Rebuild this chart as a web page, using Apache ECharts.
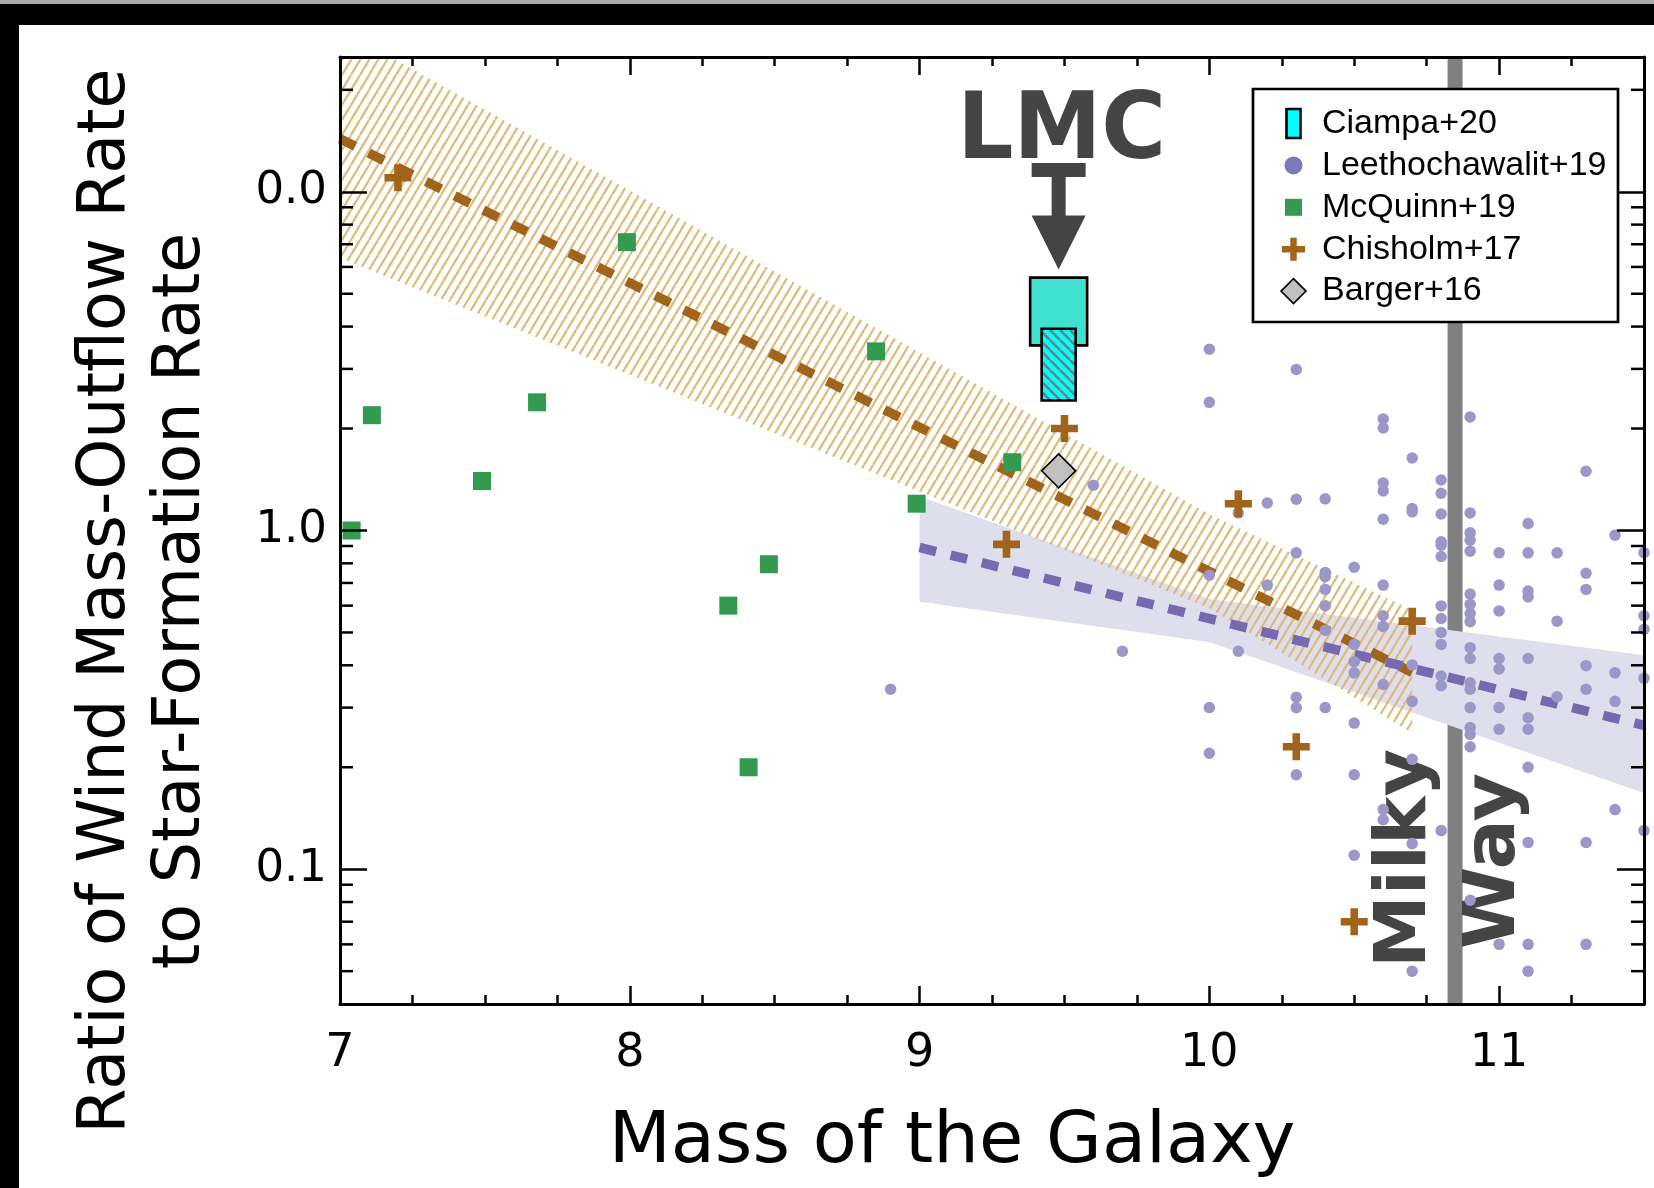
<!DOCTYPE html>
<html>
<head>
<meta charset="utf-8">
<title>Wind mass-outflow rate vs galaxy mass</title>
<script src="https://cdn.jsdelivr.net/npm/echarts@6/dist/echarts.min.js"></script>
<style>
  html, body { margin: 0; padding: 0; background: #fff; }
  #main { width: 1654px; height: 1188px; }
</style>
</head>
<body>
<div id="main"></div>
<script>
// axis ranges and tick labels
var xMin = 7, xMax = 11.5;
var yMin = 0.04, yMax = 25;
var xTickValues = [7, 8, 9, 10, 11];
var yTickValues = [0.1, 1, 10];
var yTickLabels = ['0.1', '1.0', '0.0'];
var yMinorTickValues = [0.05, 0.06, 0.07, 0.08, 0.09, 0.2, 0.3, 0.4, 0.5, 0.6, 0.7, 0.8, 0.9,
  2, 3, 4, 5, 6, 7, 8, 9, 20];

var legendNames = ['Ciampa+20', 'Leethochawalit+19', 'McQuinn+19', 'Chisholm+17', 'Barger+16'];

// [log stellar mass, outflow / SFR]
var mcquinn = [[7.04, 1.00], [7.11, 2.19], [7.49, 1.40], [7.68, 2.39], [7.99, 7.1], [8.34, 0.60],
  [8.41, 0.20], [8.48, 0.795], [8.85, 3.38], [8.99, 1.20], [9.32, 1.59]];
var chisholm = [[7.20, 11.0], [9.30, 0.91], [9.50, 2.00], [10.10, 1.20], [10.30, 0.23],
  [10.50, 0.070], [10.70, 0.54]];
var barger = [[9.48, 1.50]];
var leethochawalit = [
  [8.9, 0.34], [9.6, 1.36], [9.7, 0.44],
  [10.0, 3.43], [10.0, 2.39], [10.0, 0.738], [10.0, 0.30], [10.0, 0.22],
  [10.1, 1.127], [10.1, 0.44],
  [10.2, 1.206], [10.2, 0.69],
  [10.3, 2.99], [10.3, 1.237], [10.3, 0.859], [10.3, 0.322], [10.3, 0.30], [10.3, 0.19],
  [10.4, 1.24], [10.4, 0.752], [10.4, 0.73], [10.4, 0.67], [10.4, 0.60], [10.4, 0.508], [10.4, 0.30],
  [10.5, 0.779], [10.5, 0.461], [10.5, 0.41], [10.5, 0.38], [10.5, 0.27], [10.5, 0.19], [10.5, 0.11],
  [10.6, 2.135], [10.6, 2.007], [10.6, 1.382], [10.6, 1.309], [10.6, 1.08], [10.6, 0.69], [10.6, 0.56],
  [10.6, 0.521], [10.6, 0.351], [10.6, 0.15], [10.6, 0.14],
  [10.7, 1.637], [10.7, 1.161], [10.7, 1.135], [10.7, 0.401], [10.7, 0.313], [10.7, 0.211],
  [10.7, 0.119], [10.7, 0.05],
  [10.8, 1.41], [10.8, 1.288], [10.8, 1.119], [10.8, 0.926], [10.8, 0.905], [10.8, 0.838], [10.8, 0.599],
  [10.8, 0.55], [10.8, 0.50], [10.8, 0.461], [10.8, 0.372], [10.8, 0.348], [10.8, 0.13],
  [10.9, 2.163], [10.9, 1.127], [10.9, 0.984], [10.9, 0.936], [10.9, 0.869], [10.9, 0.649], [10.9, 0.605],
  [10.9, 0.569], [10.9, 0.538], [10.9, 0.451], [10.9, 0.419], [10.9, 0.355], [10.9, 0.34], [10.9, 0.30],
  [10.9, 0.262], [10.9, 0.25], [10.9, 0.23], [10.9, 0.081],
  [11.0, 0.859], [11.0, 0.69], [11.0, 0.579], [11.0, 0.419], [11.0, 0.39], [11.0, 0.30], [11.0, 0.259], [11.0, 0.06],
  [11.1, 1.049], [11.1, 0.859], [11.1, 0.663], [11.1, 0.637], [11.1, 0.419], [11.1, 0.28], [11.1, 0.259],
  [11.1, 0.20], [11.1, 0.12], [11.1, 0.06], [11.1, 0.05],
  [11.2, 0.859], [11.2, 0.54], [11.2, 0.323],
  [11.3, 1.496], [11.3, 0.748], [11.3, 0.67], [11.3, 0.399], [11.3, 0.34], [11.3, 0.12], [11.3, 0.06],
  [11.4, 0.969], [11.4, 0.38], [11.4, 0.313], [11.4, 0.15],
  [11.5, 0.86], [11.5, 0.56], [11.5, 0.511], [11.5, 0.366], [11.5, 0.13]
];

// Ciampa+20 LMC: [mass, low, high]
var ciampaRange = [[9.48, 3.52, 5.58]];
var ciampaHatched = [[9.48, 2.42, 3.94]];
// arrow: [mass, from, to]
var lmcArrow = [[9.48, 11.6, 5.9]];

// fits and their bands
var chisholmFitMass = [7, 10.7];
var chisholmFit = [14.35, 0.381];
var chisholmBandMass = [7, 10, 10.7];
var chisholmBandHigh = [30.3, 1.117, 0.582];
var chisholmBandLow = [6.38, 0.589, 0.252];

var leethFitMass = [9, 11.5];
var leethFit = [0.891, 0.266];
var leethBandMass = [9, 10, 11.5];
var leethBandHigh = [1.26, 0.628, 0.428];
var leethBandLow = [0.616, 0.469, 0.168];

var milkyWayMass = 10.848;

// colours
var brown = '#a0641a';
var purpleLine = '#7669af';
var purpleDot = '#9b97c9';
var green = '#339b50';
var darkGrey = '#444444';

var chart = echarts.init(document.getElementById('main'));

function makeHatch(w, h, bg, color, lw, slash) {
  var c = document.createElement('canvas');
  c.width = w;
  c.height = h;
  var ctx = c.getContext('2d');
  if (bg) {
    ctx.fillStyle = bg;
    ctx.fillRect(0, 0, w, h);
  }
  ctx.strokeStyle = color;
  ctx.lineWidth = lw;
  ctx.beginPath();
  for (var k = -1; k <= 1; k++) {
    if (slash) {
      ctx.moveTo(k * w, h);
      ctx.lineTo(k * w + w, 0);
    } else {
      ctx.moveTo(k * w, 0);
      ctx.lineTo(k * w + w, h);
    }
  }
  ctx.stroke();
  return c;
}
var orangeHatch = makeHatch(9, 15, null, '#dfba7a', 2.2, true);
var cyanHatch = makeHatch(10, 10, '#00ffff', '#7a7a7a', 2.6, false);

function crossPoints(cx, cy, s) {
  var h = s / 2, t = s * 0.14;
  return [[cx - t, cy - h], [cx + t, cy - h], [cx + t, cy - t], [cx + h, cy - t], [cx + h, cy + t],
    [cx + t, cy + t], [cx + t, cy + h], [cx - t, cy + h], [cx - t, cy + t], [cx - h, cy + t],
    [cx - h, cy - t], [cx - t, cy - t]];
}

function yFormatter(v) {
  for (var i = 0; i < yTickValues.length; i++) {
    if (Math.abs(Math.log10(v) - Math.log10(yTickValues[i])) < 1e-6) return yTickLabels[i];
  }
  return '';
}

function xAxisCfg(pos, showLabel) {
  return {
    type: 'value', position: pos, min: xMin, max: xMax, interval: 1, z: 20,
    axisLine: { show: true, onZero: false, lineStyle: { color: '#000', width: 3 } },
    axisTick: { show: true, inside: true, length: 18, lineStyle: { color: '#000', width: 2.5 } },
    minorTick: { show: true, splitNumber: 4, length: 9, lineStyle: { color: '#000', width: 2.5 } },
    splitLine: { show: false },
    axisLabel: {
      show: showLabel, margin: 27, fontSize: 46, fontFamily: 'DejaVu Sans', color: '#000',
      showMaxLabel: false,
      formatter: function (v) { return xTickValues.indexOf(v) >= 0 ? String(v) : ''; }
    }
  };
}

function yAxisCfg(pos, showLabel) {
  return {
    type: 'log', logBase: 10, position: pos, min: yMin, max: yMax, z: 20,
    axisLine: { show: true, onZero: false, lineStyle: { color: '#000', width: 3 } },
    axisTick: { show: true, inside: true, length: 27, lineStyle: { color: '#000', width: 2.5 } },
    minorTick: { show: false },
    splitLine: { show: false },
    axisLabel: {
      show: showLabel, margin: 13, fontSize: 45, fontFamily: 'DejaVu Sans', color: '#000',
      showMinLabel: false, showMaxLabel: false, formatter: yFormatter
    }
  };
}

function bandSeries(name, mass, high, low, fill, z) {
  return {
    type: 'custom', name: name, z: z, silent: true, clip: true,
    data: mass.map(function (m, i) { return [m, high[i], low[i]]; }),
    renderItem: function (params, api) {
      if (params.dataIndex !== 0) return null;
      var pts = [];
      for (var i = 0; i < mass.length; i++) pts.push(api.coord([mass[i], high[i]]));
      for (var j = mass.length - 1; j >= 0; j--) pts.push(api.coord([mass[j], low[j]]));
      return { type: 'polygon', shape: { points: pts }, style: { fill: fill } };
    }
  };
}

function fitSeries(name, mass, vals, color) {
  return {
    type: 'line', name: name, z: 4, silent: true, clip: true,
    data: mass.map(function (m, i) { return [m, vals[i]]; }),
    symbol: 'none',
    lineStyle: { color: color, width: 9.5, type: [17, 15], cap: 'butt' }
  };
}

function rangeBoxSeries(name, data, width, fill, z) {
  return {
    type: 'custom', name: name, z: z, silent: true,
    data: data,
    renderItem: function (params, api) {
      var m = api.value(0);
      var top = api.coord([m, api.value(2)]);
      var bot = api.coord([m, api.value(1)]);
      return {
        type: 'rect',
        shape: { x: top[0] - width / 2, y: top[1], width: width, height: bot[1] - top[1] },
        style: { fill: fill, stroke: '#000', lineWidth: 2.6 }
      };
    }
  };
}

var series = [
  // Milky Way marker
  {
    type: 'custom', name: 'Milky Way', z: 1, silent: true,
    data: [[milkyWayMass, yMax]],
    renderItem: function (params, api) {
      var top = api.coord([api.value(0), yMax]);
      var bot = api.coord([api.value(0), yMin]);
      var font = 'bold 71px "DejaVu Sans"';
      return {
        type: 'group', children: [
          { type: 'rect', shape: { x: top[0] - 7.5, y: top[1], width: 15, height: bot[1] - top[1] },
            style: { fill: '#808080' } },
          { type: 'text', x: top[0] - 49, y: bot[1] - 36, rotation: Math.PI / 2, scaleX: 1.03,
            style: { text: 'Milky', font: font, fill: darkGrey, textAlign: 'left', textVerticalAlign: 'middle' } },
          { type: 'text', x: top[0] + 40, y: bot[1] - 55, rotation: Math.PI / 2, scaleX: 1.05,
            style: { text: 'Way', font: font, fill: darkGrey, textAlign: 'left', textVerticalAlign: 'middle' } }
        ]
      };
    }
  },
  bandSeries('Leethochawalit+19 fit range', leethBandMass, leethBandHigh, leethBandLow, '#dedeec', 2),
  bandSeries('Chisholm+17 fit range', chisholmBandMass, chisholmBandHigh, chisholmBandLow,
    { image: orangeHatch, repeat: 'repeat' }, 3),
  fitSeries('Chisholm+17 fit', chisholmFitMass, chisholmFit, brown),
  fitSeries('Leethochawalit+19 fit', leethFitMass, leethFit, purpleLine),
  rangeBoxSeries('Ciampa+20', ciampaRange, 57, '#40e0d0', 5),
  rangeBoxSeries('Ciampa+20 (hatched)', ciampaHatched, 34, { image: cyanHatch, repeat: 'repeat' }, 5),
  // LMC arrow and label
  {
    type: 'custom', name: 'LMC', z: 5, silent: true,
    data: lmcArrow,
    renderItem: function (params, api) {
      var from = api.coord([api.value(0), api.value(1)]);
      var tip = api.coord([api.value(0), api.value(2)]);
      var cx = from[0], barTop = from[1] - 7, base = tip[1] - 54;
      return {
        type: 'group', children: [
          { type: 'rect', shape: { x: cx - 27, y: barTop, width: 54, height: 14 }, style: { fill: darkGrey } },
          { type: 'rect', shape: { x: cx - 7, y: barTop + 13, width: 14, height: base - barTop - 12 }, style: { fill: darkGrey } },
          { type: 'polygon', shape: { points: [[cx - 27, base], [cx + 27, base], [cx, tip[1]]] }, style: { fill: darkGrey } },
          { type: 'text', x: cx + 3, y: barTop - 29, scaleX: 0.96,
            style: { text: 'LMC', font: 'bold 92px "DejaVu Sans"', fill: darkGrey, textAlign: 'center', textVerticalAlign: 'middle' } }
        ]
      };
    }
  },
  {
    type: 'scatter', name: 'Leethochawalit+19', z: 6, silent: true, data: leethochawalit,
    symbol: 'circle', symbolSize: 11.5, itemStyle: { color: purpleDot, opacity: 1 }
  },
  {
    type: 'scatter', name: 'McQuinn+19', z: 6, silent: true, data: mcquinn,
    symbol: 'rect', symbolSize: 18, itemStyle: { color: green, opacity: 1 }
  },
  {
    type: 'scatter', name: 'Chisholm+17', z: 6, silent: true, data: chisholm,
    symbol: 'path://M36,0H64V36H100V64H64V100H36V64H0V36H36Z', symbolSize: 27,
    itemStyle: { color: brown, opacity: 1 }
  },
  {
    type: 'scatter', name: 'Barger+16', z: 6, silent: true, data: barger,
    symbol: 'diamond', symbolSize: 34,
    itemStyle: { color: '#c0c0c0', borderColor: '#000', borderWidth: 1.6, opacity: 1 }
  },
  // log-axis minor ticks on left and right
  {
    type: 'custom', name: 'minor ticks', z: 21, silent: true,
    data: yMinorTickValues.map(function (v) { return [xMin, v]; }),
    renderItem: function (params, api) {
      var v = api.value(1);
      var l = api.coord([xMin, v]);
      var r = api.coord([xMax, v]);
      return {
        type: 'group', children: [
          { type: 'line', shape: { x1: l[0], y1: l[1], x2: l[0] + 13, y2: l[1] }, style: { stroke: '#000', lineWidth: 2.5 } },
          { type: 'line', shape: { x1: r[0] - 13, y1: r[1], x2: r[0], y2: r[1] }, style: { stroke: '#000', lineWidth: 2.5 } }
        ]
      };
    }
  }
];

// legend box built from graphic elements
var legendX = 1253, legendY = 89, legendW = 365, legendH = 233;
var iconX = 1293.5, textX = 1322;
var rowY = legendNames.map(function (n, i) { return 123.5 + i * 41.9; });
var legendFont = '34px "Liberation Sans"';
var legendChildren = [
  { type: 'rect', z: 100, shape: { x: legendX, y: legendY, width: legendW, height: legendH },
    style: { fill: '#fff', stroke: '#000', lineWidth: 2.7 } },
  { type: 'rect', z: 101, shape: { x: iconX - 7, y: rowY[0] - 14.5, width: 14, height: 29 },
    style: { fill: '#00ffff', stroke: '#000', lineWidth: 2.6 } },
  { type: 'circle', z: 101, shape: { cx: iconX, cy: rowY[1], r: 9 }, style: { fill: '#7d77bb' } },
  { type: 'rect', z: 101, shape: { x: iconX - 8.5, y: rowY[2] - 8.5, width: 17, height: 17 }, style: { fill: green } },
  { type: 'polygon', z: 101, shape: { points: crossPoints(iconX, rowY[3], 23) }, style: { fill: brown } },
  { type: 'polygon', z: 101, shape: { points: [[iconX - 12.5, rowY[4]], [iconX, rowY[4] - 12.5], [iconX + 12.5, rowY[4]], [iconX, rowY[4] + 12.5]] },
    style: { fill: '#c0c0c0', stroke: '#000', lineWidth: 1.6 } }
];
legendNames.forEach(function (n, i) {
  legendChildren.push({ type: 'text', z: 101, x: textX, y: rowY[i],
    style: { text: n, font: legendFont, fill: '#000', textAlign: 'left', textVerticalAlign: 'middle' } });
});

var option = {
  animation: false,
  backgroundColor: '#fff',
  grid: { left: 340, right: 10, top: 57, bottom: 184, outerBoundsMode: 'none', containLabel: false },
  xAxis: [xAxisCfg('bottom', true), xAxisCfg('top', false)],
  yAxis: [yAxisCfg('left', true), yAxisCfg('right', false)],
  series: series,
  graphic: [
    { type: 'group', children: legendChildren },
    { type: 'text', z: 100, x: 952, y: 1143,
      style: { text: 'Mass of the Galaxy', font: '72px "DejaVu Sans"', fill: '#000', textAlign: 'center', textVerticalAlign: 'middle' } },
    { type: 'text', z: 100, x: 107, y: 601, rotation: Math.PI / 2,
      style: { text: 'Ratio of Wind Mass-Outflow Rate', font: '65px "DejaVu Sans"', fill: '#000', textAlign: 'center', textVerticalAlign: 'middle' } },
    { type: 'text', z: 100, x: 182, y: 601, rotation: Math.PI / 2,
      style: { text: 'to Star-Formation Rate', font: '65px "DejaVu Sans"', fill: '#000', textAlign: 'center', textVerticalAlign: 'middle' } },
    // page frame
    { type: 'rect', z: 100, shape: { x: 0, y: 0, width: 1654, height: 4 }, style: { fill: '#a8a8a8' } },
    { type: 'rect', z: 100, shape: { x: 0, y: 4, width: 1654, height: 21 }, style: { fill: '#000' } },
    { type: 'rect', z: 100, shape: { x: 0, y: 4, width: 19, height: 1184 }, style: { fill: '#000' } }
  ]
};
chart.setOption(option);
</script>
</body>
</html>
